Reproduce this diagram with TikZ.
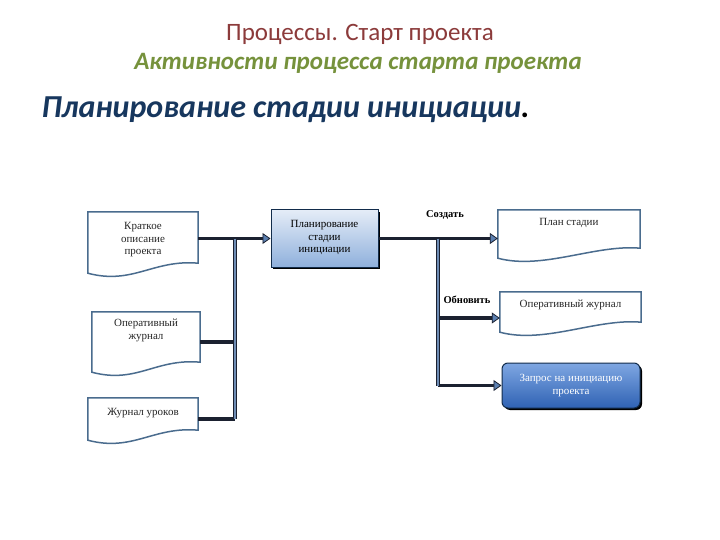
\documentclass[tikz,border=0pt]{standalone}
\usepackage{fontspec}
\setmainfont{Liberation Serif}
\newfontfamily\titlefont{Carlito}
\usetikzlibrary{arrows.meta,shadows}
\definecolor{docedge}{HTML}{4A6C8E}
\definecolor{linedark}{HTML}{1B2130}
\definecolor{busblue}{HTML}{6E8CB4}
\definecolor{tipblue}{HTML}{5B7FB0}
\definecolor{ttlred}{HTML}{8C3B3B}
\definecolor{ttlgreen}{HTML}{76923C}
\definecolor{ttlblue}{HTML}{17375E}
\definecolor{boxtop}{HTML}{E4ECF7}
\definecolor{boxbot}{HTML}{8FB0DC}
\definecolor{reqtop}{HTML}{7FA7E2}
\definecolor{reqbot}{HTML}{2F62B4}
\newcommand\docwave[1]{\draw[docline] (#1.south west) -- (#1.north west) -- (#1.north east) -- ([yshift=10pt]#1.south east)
  .. controls ([xshift=-45pt,yshift=14pt]#1.south east) and ([xshift=45pt,yshift=-12pt]#1.south west) .. (#1.south west) -- cycle;}
\begin{document}
\begin{tikzpicture}[x=1pt,y=-1pt,
  docbox/.style={inner sep=0pt},
  docline/.style={draw=docedge,line width=1.5pt,fill=white},
  doctext/.style={align=center,text=black!85,font=\fontsize{11}{12.5}\selectfont},
  procbox/.style={draw=ttlblue!80!black,line width=1pt,top color=boxtop,bottom color=boxbot,
    drop shadow={shadow xshift=2pt,shadow yshift=-2pt,fill=black,opacity=1},
    align=center,font=\fontsize{11}{12.5}\selectfont},
  conn/.style={line width=3.5pt,draw=linedark},
  connarr/.style={conn,-{Triangle[length=8pt,width=11pt,fill=tipblue,line width=0.8pt]}},
  trunk/.style={draw=linedark,double=busblue,double distance=2.5pt,line width=1pt},
  lbl/.style={font=\bfseries\fontsize{10.5}{12}\selectfont}]
\fill[white] (0,0) rectangle (720,540);
\useasboundingbox (0,0) rectangle (720,540);
% titles
\node[text=ttlred,font=\titlefont\fontsize{25}{28}\selectfont] (t1) at (360,34) {Процессы. Старт проекта};
\node[text=ttlgreen,font=\titlefont\bfseries\itshape\fontsize{25}{28}\selectfont] (t2) at (358,63) {Активности процесса старта проекта};
\node[anchor=west,text=ttlblue,font=\titlefont\bfseries\itshape\fontsize{32}{36}\selectfont] (t3) at (38,110) {Планирование стадии инициации{\color{black}.}};
% inputs
\node[docbox,minimum width=110pt,minimum height=61pt] (kratk) at (143,242.5) {};
\docwave{kratk}
\node[doctext,below=7pt] (kratkT) at (kratk.north) {Краткое\\описание\\проекта};
\node[docbox,minimum width=108pt,minimum height=60pt] (operL) at (146,342) {};
\docwave{operL}
\node[doctext,below=4pt] (operLT) at (operL.north) {Оперативный\\журнал};
\node[docbox,minimum width=110pt,minimum height=42pt] (uroki) at (143,419) {};
\docwave{uroki}
\node[doctext,below=7pt] (urokiT) at (uroki.north) {Журнал уроков};
% process
\node[procbox,minimum width=107pt,minimum height=57pt,text depth=4pt] (plan) at (324.5,238.5) {Планирование\\стадии\\инициации};
% outputs
\node[docbox,minimum width=142pt,minimum height=48pt] (stadii) at (569,234) {};
\docwave{stadii}
\node[doctext,below=5pt] (stadiiT) at (stadii.north) {План стадии};
\node[docbox,minimum width=141pt,minimum height=40pt] (operR) at (570.5,312) {};
\docwave{operR}
\node[doctext,below=5pt] (operRT) at (operR.north) {Оперативный журнал};
\node[procbox,rounded corners=6pt,top color=reqtop,bottom color=reqbot,
  text=white,minimum width=138pt,minimum height=45pt] (zapros) at (571,385.5) {Запрос на инициацию\\проекта};
% connectors
\coordinate (lbus) at (235,419);
\coordinate (rbus) at (438,385.5);
\coordinate (upd) at (438,318);
\draw[connarr] (kratk.east |- plan.west) -- (plan.west);
\draw[conn] (operL.east) -- (operL.east -| lbus);
\draw[conn] (uroki.east) -- (lbus);
\draw[trunk] (lbus |- plan.west) -- (lbus);
\draw[connarr] (plan.east) -- (plan.east -| stadii.west);
\draw[connarr] (upd) -- (upd -| operR.west);
\draw[connarr] (rbus) -- (zapros.west);
\draw[trunk] (rbus |- plan.east) -- (rbus);
\node[lbl] (sozd) at (445,215) {Создать};
\node[lbl] (obnov) at (467,300) {Обновить};
\end{tikzpicture}
\end{document}
